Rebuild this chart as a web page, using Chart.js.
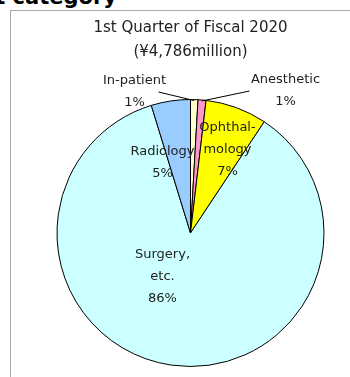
<!DOCTYPE html>
<html>
<head>
<meta charset="utf-8">
<script src="https://cdn.jsdelivr.net/npm/chart.js@4.4.1/dist/chart.umd.min.js"></script>
<style>
  html, body { margin: 0; padding: 0; background: #fff; overflow: hidden; }
  #wrap { position: relative; width: 350px; height: 377px; overflow: hidden; }
  #heading {
    position: absolute; right: 233px; top: -13px; white-space: nowrap;
    font: bold 21px "DejaVu Sans", sans-serif; line-height: 21px; color: #000;
  }
  #frame {
    position: absolute; left: 10px; top: 10px; right: -10px; bottom: -10px;
    border: 1px solid #a8a8a8;
  }
  #grafico { position: absolute; left: 0; top: 0; }
</style>
</head>
<body>
<div id="wrap">
  <div id="heading">Sales by product category</div>
  <div id="frame"></div>
  <canvas id="grafico" width="350" height="377"></canvas>
</div>
<script>
// Datos (millones de yenes)
const categorias = ['In-patient', 'Anesthetic', 'Ophthalmology', 'Surgery, etc.', 'Radiology'];
const ventas = [43, 46, 357, 4113, 227];
const lineasEtiqueta = [['In-patient'], ['Anesthetic'], ['Ophthal-', 'mology'], ['Surgery,', 'etc.'], ['Radiology']];
const lineasTitulo = ['1st Quarter of Fiscal 2020', '(¥4,786million)'];

const colores = ['#FFFFCC', '#FF99CC', '#FFFF00', '#CCFFFF', '#99CCFF'];

// posicion de las etiquetas respecto al centro del pastel
const posEtiquetas = [
  { dx: -56, dy: -141, guia: { dx: -32, dy: -141 } },
  { dx: 95, dy: -142, guia: { dx: 59, dy: -142 } },
  { dx: 37, dy: -83 },
  { dx: -28, dy: 44 },
  { dx: -28, dy: -70 }
];

const total = ventas.reduce((a, b) => a + b, 0);

const pluginEtiquetas = {
  id: 'etiquetas',
  afterDatasetsDraw(chart) {
    const ctx = chart.ctx;
    const arcos = chart.getDatasetMeta(0).data;
    const lh = 22;
    ctx.save();
    ctx.font = '13px "DejaVu Sans", sans-serif';
    ctx.fillStyle = '#222';
    ctx.textAlign = 'center';
    ctx.textBaseline = 'middle';
    arcos.forEach((arco, i) => {
      const p = posEtiquetas[i];
      const lineas = lineasEtiqueta[i].concat([Math.round(ventas[i] / total * 100) + '%']);
      const cx = arco.x + p.dx;
      const cy = arco.y + p.dy - (lineas.length - 1) * lh / 2;
      lineas.forEach((t, k) => ctx.fillText(t, cx, cy + k * lh));
      if (p.guia) {
        const mid = (arco.startAngle + arco.endAngle) / 2;
        ctx.beginPath();
        ctx.strokeStyle = '#000';
        ctx.lineWidth = 1;
        ctx.moveTo(arco.x + p.guia.dx, arco.y + p.guia.dy);
        ctx.lineTo(arco.x + Math.cos(mid) * (arco.outerRadius - 1), arco.y + Math.sin(mid) * (arco.outerRadius - 1));
        ctx.stroke();
      }
    });
    ctx.restore();
  }
};

new Chart(document.getElementById('grafico').getContext('2d'), {
  type: 'pie',
  data: {
    labels: categorias,
    datasets: [{
      data: ventas,
      backgroundColor: colores,
      borderColor: '#000',
      borderWidth: 1
    }]
  },
  options: {
    responsive: false,
    animation: false,
    layout: { padding: { top: 10, left: 56, right: 25, bottom: 10 } },
    plugins: {
      legend: { display: false },
      tooltip: { enabled: false },
      title: {
        display: true,
        text: lineasTitulo,
        color: '#222',
        font: { family: '"DejaVu Sans", sans-serif', size: 15, weight: 'normal', lineHeight: 1.6 },
        padding: { top: 6, bottom: 35 }
      }
    }
  },
  plugins: [pluginEtiquetas]
});
</script>
</body>
</html>
